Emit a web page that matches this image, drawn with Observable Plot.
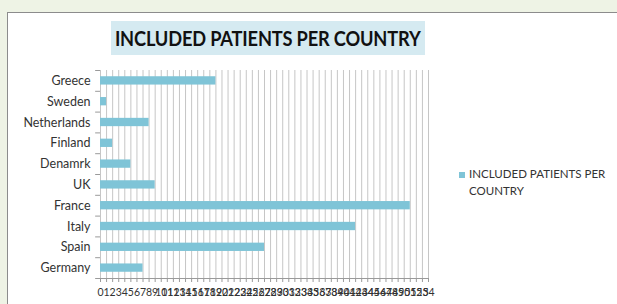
<!DOCTYPE html>
<html>
<head>
<meta charset="utf-8">
<script src="https://cdn.jsdelivr.net/npm/d3@7"></script>
<script src="https://cdn.jsdelivr.net/npm/@observablehq/plot@0.6"></script>
<style>
  html, body { margin: 0; padding: 0; }
  body { width: 617px; height: 304px; overflow: hidden; background: #eef3e5; position: relative; font-family: Lato, "Open Sans", sans-serif; }
  #box { position: absolute; left: 7px; top: 12px; width: 640px; height: 320px; background: #fff; border: 1px solid #8c8c8c; box-sizing: border-box; }
  #title { position: absolute; left: 111px; top: 21px; width: 314px; height: 34px; background: #d5eaf1; color: #111; font-weight: 700; font-size: 20.5px; line-height: 34px; text-align: center; white-space: nowrap; }
  #title span { display: inline-block; transform: scaleX(0.89); transform-origin: center; margin: 0 -30px; letter-spacing: -0.2px; }
  #chart { position: absolute; left: 0; top: 0; }
  #legend { position: absolute; left: 459px; top: 165px; font-size: 11.5px; color: #333; line-height: 17px; }
  #legend .sw { position: absolute; left: 0; top: 7px; width: 6px; height: 6px; background: #7fc4d7; }
  #legend .tx { position: absolute; left: 10px; top: 0; white-space: nowrap; }
</style>
</head>
<body>
<div id="box"></div>
<div id="title"><span>INCLUDED PATIENTS PER COUNTRY</span></div>
<div id="chart"></div>
<div id="legend"><div class="sw"></div><div class="tx">INCLUDED PATIENTS PER<br>COUNTRY</div></div>
<script>
const countries = ["Greece", "Sweden", "Netherlands", "Finland", "Denamrk", "UK", "France", "Italy", "Spain", "Germany"];
const patients = [19, 1, 8, 2, 5, 9, 51, 42, 27, 7];
const xTicks = d3.range(0, 55, 1);
const seriesName = "INCLUDED PATIENTS PER COUNTRY";

const data = countries.map((c, i) => ({country: c, value: patients[i]}));

const chart = Plot.plot({
  width: 617,
  height: 304,
  marginLeft: 100,
  marginRight: 189,
  marginTop: 70,
  marginBottom: 26,
  style: {background: "transparent", fontFamily: "Lato, 'Open Sans', sans-serif", color: "#333"},
  x: {domain: [0, 54]},
  y: {domain: countries, paddingInner: 0.6, paddingOuter: 0.3, round: false},
  marks: [
    Plot.ruleX(xTicks, {stroke: "#c6c6c6", strokeWidth: 1}),
    Plot.barX(data, {y: "country", x: "value", fill: "#7fc4d7"}),
    Plot.ruleY(countries, {y: d => d, dy: 10.4, x1: -0.8, x2: 0, stroke: "#9a9a9a"}),
    Plot.ruleY([countries[0]], {y: d => d, dy: -10.4, x1: -0.8, x2: 0, stroke: "#9a9a9a"}),
    Plot.frame({anchor: "bottom", stroke: "#9a9a9a"}),
    Plot.axisX({ticks: xTicks, tickSize: 4, tickPadding: 6, fontSize: 10.5, stroke: "#9a9a9a", fill: "#333", label: null, tickFormat: d => String(d)}),
    Plot.axisY({tickSize: 0, tickPadding: 10, fontSize: 12.5, fill: "#333", label: null})
  ]
});
document.getElementById("chart").appendChild(chart);
</script>
</body>
</html>
